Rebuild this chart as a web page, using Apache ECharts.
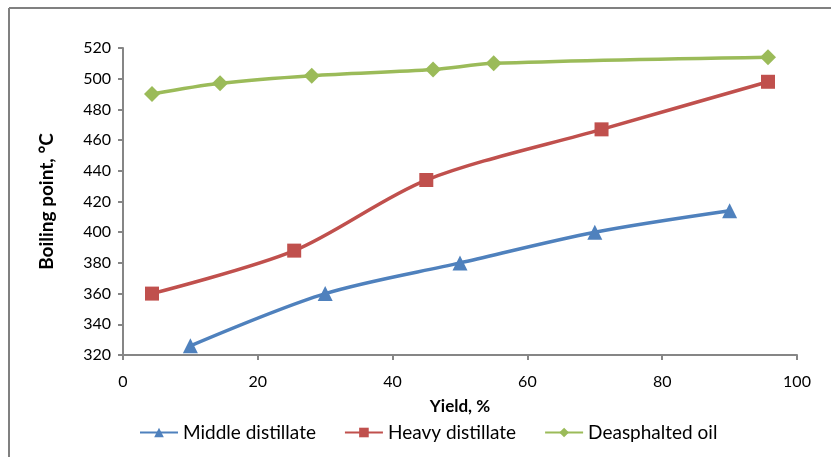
<!DOCTYPE html>
<html><head><meta charset="utf-8">
<script src="https://cdn.jsdelivr.net/npm/echarts@6/dist/echarts.min.js"></script>
<style>html,body{margin:0;padding:0;background:#fff}#c{width:831px;height:457px}</style>
</head><body><div id="c"></div>
<script>
const seriesNames = ['Middle distillate', 'Heavy distillate', 'Deasphalted oil'];
const middleX = [10, 30, 50, 70, 90];
const middleY = [326, 360, 380, 400, 414];
const heavyX = [4.3, 25.4, 45, 71, 95.7];
const heavyY = [360, 388, 434, 467, 498];
const deasX = [4.3, 14.4, 28, 46, 55, 95.7];
const deasY = [490, 497, 502, 506, 510, 514];

const zip = (a, b) => a.map((v, i) => [v, b[i]]);
const font = 'Lato, "Open Sans", sans-serif';
const chart = echarts.init(document.getElementById('c'));
chart.setOption({
  animation: false,
  grid: {left: 123, top: 48, right: 34, bottom: 102},
  graphic: [
    {type: 'line', shape: {x1: 9, y1: 8, x2: 831, y2: 8}, style: {stroke: '#808080', lineWidth: 2}},
    {type: 'line', shape: {x1: 9, y1: 8, x2: 9, y2: 457}, style: {stroke: '#808080', lineWidth: 2}}
  ],
  xAxis: {
    type: 'value', min: 0, max: 100, interval: 20,
    name: 'Yield, %', nameLocation: 'middle', nameGap: 43,
    nameTextStyle: {fontFamily: font, fontWeight: 'bold', fontSize: 17, color: '#000'},
    axisLine: {lineStyle: {color: '#868686', width: 2}},
    axisTick: {show: true, length: 5, lineStyle: {color: '#868686', width: 2}},
    axisLabel: {fontFamily: font, fontSize: 16, color: '#000', margin: 19},
    splitLine: {show: false}
  },
  yAxis: {
    type: 'value', min: 320, max: 520, interval: 20,
    name: 'Boiling point, °C', nameLocation: 'middle', nameGap: 67, nameRotate: 90,
    nameTextStyle: {fontFamily: font, fontWeight: 'bold', fontSize: 19, color: '#000'},
    axisLine: {show: true, lineStyle: {color: '#868686', width: 2}},
    axisTick: {show: true, length: 5, lineStyle: {color: '#868686', width: 2}},
    axisLabel: {fontFamily: font, fontSize: 16, color: '#000', margin: 12},
    splitLine: {show: false}
  },
  legend: {
    bottom: 10, left: 134, itemGap: 28, itemWidth: 38, itemHeight: 12,
    textStyle: {fontFamily: font, fontSize: 19, color: '#000'},
    data: seriesNames
  },
  series: [
    {name: seriesNames[0], type: 'line', smooth: 0.3, data: zip(middleX, middleY),
     symbol: 'triangle', symbolSize: 15, color: '#4F81BD', lineStyle: {width: 3.5}},
    {name: seriesNames[1], type: 'line', smooth: 0.3, data: zip(heavyX, heavyY),
     symbol: 'rect', symbolSize: 14, color: '#C0504D', lineStyle: {width: 3.5}},
    {name: seriesNames[2], type: 'line', smooth: 0.3, data: zip(deasX, deasY),
     symbol: 'diamond', symbolSize: 16, color: '#9BBB59', lineStyle: {width: 3.5}}
  ]
});
</script></body></html>
